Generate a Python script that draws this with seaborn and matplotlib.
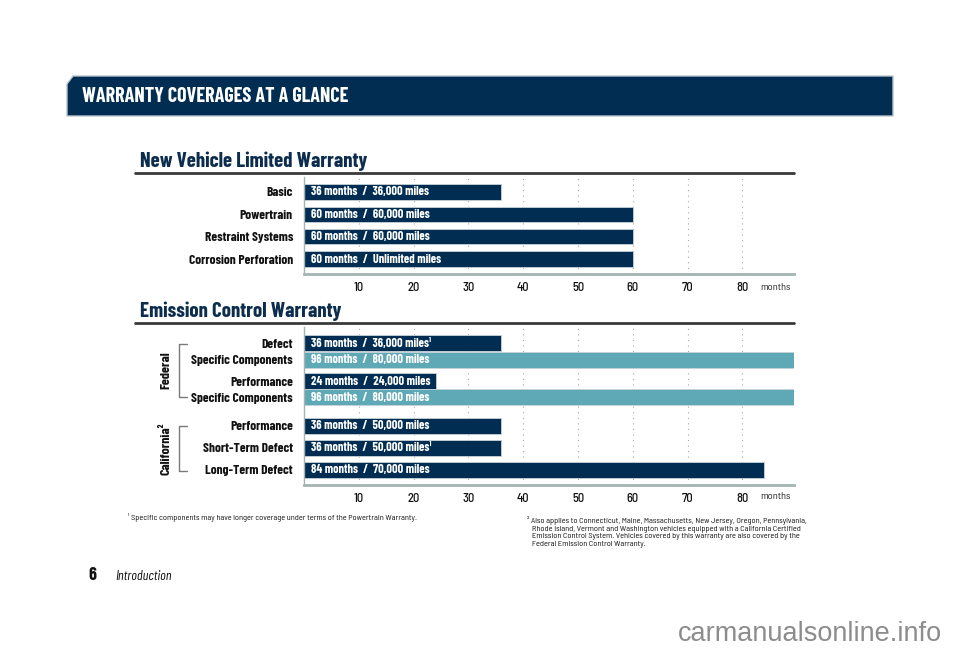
import numpy as np
import pandas as pd
import matplotlib.pyplot as plt
import matplotlib.patches as mpatches
from matplotlib import font_manager
import seaborn as sns

# data
nv_labels = ["Basic", "Powertrain", "Restraint Systems", "Corrosion Perforation"]
nv_months = [36, 60, 60, 60]
nv_text = ["36 months  /  36,000 miles", "60 months  /  60,000 miles",
           "60 months  /  60,000 miles", "60 months  /  Unlimited miles"]

em_labels = ["Defect", "Specific Components", "Performance", "Specific Components",
             "Performance", "Short-Term Defect", "Long-Term Defect"]
em_months = [36, 96, 24, 96, 36, 36, 84]
em_kind = ["main", "specific", "main", "specific", "main", "main", "main"]
em_text = ["36 months  /  36,000 miles¹", "96 months  /  80,000 miles",
           "24 months  /  24,000 miles", "96 months  /  80,000 miles",
           "36 months  /  50,000 miles", "36 months  /  50,000 miles¹",
           "84 months  /  70,000 miles"]

ticks = [10, 20, 30, 40, 50, 60, 70, 80]

# layout (row centres for emission chart, in pixel-like units)
em_pos = [0, 17, 38, 54, 83, 105, 127]

NAVY = "#002d51"
TEAL = "#5fa8b5"
GRID = "#a8a8a8"

sns.set_style("white")

names = {f.name for f in font_manager.fontManager.ttflist}
FAM = "Barlow Condensed" if "Barlow Condensed" in names else "DejaVu Sans"
SMALL = "Barlow Semi Condensed" if "Barlow Semi Condensed" in names else FAM
plt.rcParams['font.family'] = [FAM, 'DejaVu Sans']
plt.rcParams['text.color'] = "#111111"

W, H = 960, 657
fig = plt.figure(figsize=(9.6, 6.57), dpi=100)


def fx(px):
    return px / W


def fy(py):
    return 1 - py / H


# banner
banner = mpatches.Polygon([(fx(67), fy(84)), (fx(73), fy(76)), (fx(893), fy(76)),
                           (fx(893), fy(116)), (fx(67), fy(116))],
                          closed=True, transform=fig.transFigure,
                          facecolor="#002d51", edgecolor="#b8c4cc", lw=1)
fig.patches.append(banner)
fig.text(fx(82), fy(97), "WARRANTY COVERAGES AT A GLANCE", color="white",
         fontsize=14.5, fontweight="bold", va="center", ha="left")


def style_axis(ax):
    ax.set_xlim(0, 89.4)
    ax.set_xticks(ticks)
    ax.set_xticklabels([str(t) for t in ticks], fontsize=9, fontweight="medium",
                       family=[SMALL, "DejaVu Sans"])
    for t in ticks:
        ax.axvline(t, color=GRID, ls=(0, (1, 4)), lw=0.8, zorder=0)
    for s in ["top", "right"]:
        ax.spines[s].set_visible(False)
    ax.spines["bottom"].set_color("#a5b3b5")
    ax.spines["bottom"].set_linewidth(2)
    ax.spines["left"].set_color("#a5b3b5")
    ax.spines["left"].set_linewidth(1)
    ax.tick_params(axis="x", direction="inout", length=7, width=1.2, color="black",
                   pad=2, labelcolor="#111111")
    ax.tick_params(axis="y", length=0, pad=8, labelcolor="#111111")
    ax.set_xlabel("")
    ax.set_ylabel("")


# section 1
fig.text(fx(140), fy(161), "New Vehicle Limited Warranty", color="#0d2d4f",
         fontsize=15, fontweight="bold", va="center", ha="left")
fig.add_artist(plt.Line2D([fx(135), fx(794)], [fy(173), fy(173)], color="#3a3a3a", lw=2))

ax1 = fig.add_axes([fx(304), fy(274), fx(794 - 304), (274 - 177) / H])
df1 = pd.DataFrame({"label": nv_labels, "months": nv_months})
sns.barplot(data=df1, y="label", x="months", orient="y", color=NAVY, width=0.7,
            saturation=1, edgecolor="#c8d2d8", linewidth=0.6, ax=ax1, zorder=2)
ax1.set_ylim(3.67, -0.67)
style_axis(ax1)
ax1.set_yticks(range(len(nv_labels)))
ax1.set_yticklabels(nv_labels, fontsize=9.6, fontweight="bold")
for i, t in enumerate(nv_text):
    ax1.text(1.3, i, t, color="white", fontsize=8.8, fontweight="bold",
             va="center", ha="left", zorder=3)
ax1.text(83.2, -0.14, "months", transform=ax1.get_xaxis_transform(), fontsize=7.5,
         color="#222222", va="center", ha="left", family=[SMALL, "DejaVu Sans"])

# section 2
fig.text(fx(140), fy(311), "Emission Control Warranty", color="#0d2d4f",
         fontsize=15, fontweight="bold", va="center", ha="left")
fig.add_artist(plt.Line2D([fx(135), fx(794)], [fy(323), fy(323)], color="#3a3a3a", lw=2))

ax2 = fig.add_axes([fx(304), fy(485), fx(794 - 304), (485 - 327) / H])
df2 = pd.DataFrame({"pos": em_pos, "months": em_months, "kind": em_kind})
sns.barplot(data=df2, y="pos", x="months", hue="kind", orient="y", native_scale=True,
            palette={"main": NAVY, "specific": TEAL}, width=1.0, dodge=False,
            saturation=1, edgecolor="#c8d2d8", linewidth=0.6, ax=ax2, zorder=2, legend=False)
ax2.set_ylim(142, -16)
style_axis(ax2)
ax2.set_yticks(em_pos)
ax2.set_yticklabels(em_labels, fontsize=9.6, fontweight="bold")
for p, t in zip(em_pos, em_text):
    ax2.text(1.3, p, t, color="white", fontsize=8.8, fontweight="bold",
             va="center", ha="left", zorder=3)
ax2.text(83.2, -0.07, "months", transform=ax2.get_xaxis_transform(), fontsize=7.5,
         color="#222222", va="center", ha="left", family=[SMALL, "DejaVu Sans"])

# group brackets
for y0, y1, lab in [(344, 397, "Federal"), (426, 471, "California²")]:
    fig.add_artist(plt.Line2D([fx(187), fx(179), fx(179), fx(187)],
                              [fy(y0), fy(y0), fy(y1), fy(y1)], color="#7a7a7a", lw=1))
    fig.text(fx(166), fy((y0 + y1) / 2), lab, rotation=90, fontsize=10, fontweight="bold",
             va="center", ha="center")

# footnotes
fig.text(fx(128), fy(517), "¹ Specific components may have longer coverage under terms of the Powertrain Warranty.",
         fontsize=6, va="center", ha="left", family=[SMALL, "DejaVu Sans"])
fig.text(fx(527), fy(516),
         "² Also applies to Connecticut, Maine, Massachusetts, New Jersey, Oregon, Pennsylvania,\n"
         "   Rhode Island, Vermont and Washington vehicles equipped with a California Certified\n"
         "   Emission Control System. Vehicles covered by this warranty are also covered by the\n"
         "   Federal Emission Control Warranty.",
         fontsize=6, va="top", ha="left", linespacing=1.12, family=[SMALL, "DejaVu Sans"])

fig.text(fx(88), fy(576), "6", fontsize=13, fontweight="bold", va="center", ha="left")
fig.text(fx(115), fy(576), "Introduction", fontsize=10, style="italic", va="center", ha="left")

fig.text(fx(942), fy(634), "carmanualsonline.info", fontsize=19.5, color="#8c8c8c",
         va="center", ha="right", family=["Liberation Sans", "DejaVu Sans"])

fig.savefig("out.png", dpi=100)
